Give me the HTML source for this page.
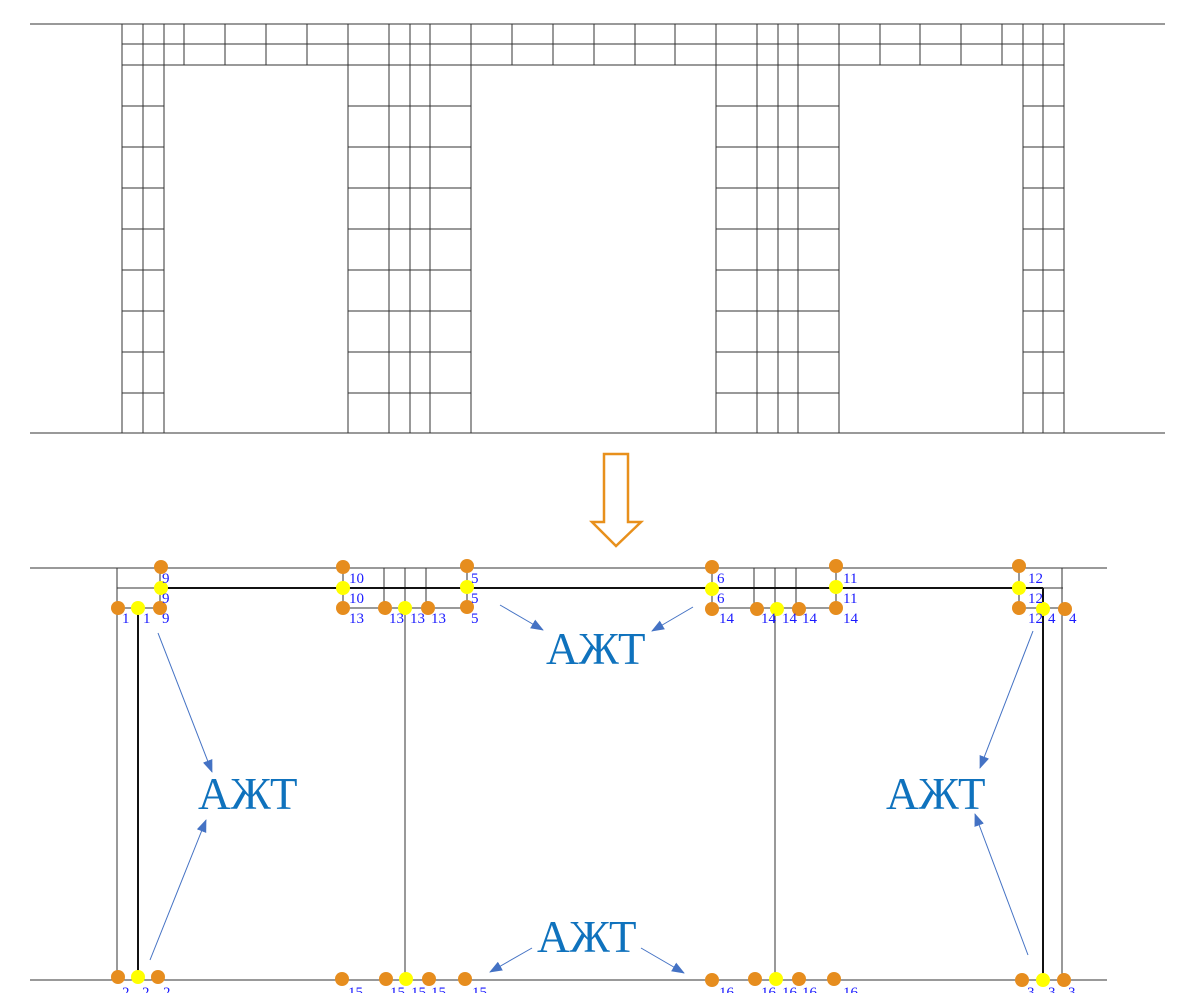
<!DOCTYPE html>
<html><head><meta charset="utf-8"><style>
html,body{margin:0;padding:0;background:#fff;}
svg{display:block}
.l{font-family:"Liberation Serif",serif;font-size:15px;fill:#1a1aff}
.a{font-family:"Liberation Serif",serif;font-size:45px;fill:#0f72bd}
</style></head><body>
<svg width="1178" height="993" viewBox="0 0 1178 993" xmlns="http://www.w3.org/2000/svg">
<defs><marker id="ah" markerWidth="13" markerHeight="10" refX="12" refY="5" orient="auto" markerUnits="userSpaceOnUse"><path d="M0,0 L13,5 L0,10 z" fill="#4472c4"/></marker></defs>
<g stroke="#333" stroke-width="1" fill="none" shape-rendering="crispEdges">
<path d="M30 24H1165M122 44H1064M122 65H1064M30 433H1165"/>
<path d="M122 106H164M348 106H471M716 106H839M1023 106H1064
M122 147H164M348 147H471M716 147H839M1023 147H1064
M122 188H164M348 188H471M716 188H839M1023 188H1064
M122 229H164M348 229H471M716 229H839M1023 229H1064
M122 270H164M348 270H471M716 270H839M1023 270H1064
M122 311H164M348 311H471M716 311H839M1023 311H1064
M122 352H164M348 352H471M716 352H839M1023 352H1064
M122 393H164M348 393H471M716 393H839M1023 393H1064"/>
<path d="M122 24V433M143 24V433M164 24V433M348 24V433M389 24V433M410 24V433M430 24V433M471 24V433M716 24V433M757 24V433M778 24V433M798 24V433M839 24V433M1023 24V433M1043 24V433M1064 24V433"/>
<path d="M184 24V65M225 24V65M266 24V65M307 24V65M512 24V65M553 24V65M594 24V65M635 24V65M675 24V65M880 24V65M920 24V65M961 24V65M1002 24V65"/>
</g>
<path d="M604 454H628V522H641L616 546L592 522H604Z" fill="none" stroke="#e8901c" stroke-width="2.5"/>
<g stroke="#333" stroke-width="1" fill="none" shape-rendering="crispEdges">
<path d="M30 568H1107M30 980H1107M117 588H160M117 608H160M343 608H467M712 608H836M1019 608H1063M1043 588H1063"/>
<path d="M117 568V980M1062 568V980M160 568V608M343 568V608M384 568V608M405 568V980M426 568V608M467 568V608M712 568V608M754 568V608M775 568V980M796 568V608M836 568V608M1019 568V608"/>
</g>
<g stroke="#111" stroke-width="2" fill="none"><path d="M160 588H1043M138 608V980M1043 588V980"/></g>
<g stroke="#4472c4" stroke-width="1" marker-end="url(#ah)">
<line x1="500" y1="605" x2="543" y2="630"/>
<line x1="693" y1="607" x2="652" y2="631"/>
<line x1="158" y1="633" x2="212" y2="772"/>
<line x1="150" y1="960" x2="206" y2="820"/>
<line x1="1033" y1="631" x2="980" y2="768"/>
<line x1="1028" y1="955" x2="975" y2="814"/>
<line x1="532" y1="948" x2="490" y2="972"/>
<line x1="641" y1="948" x2="684" y2="973"/>
</g>
<g fill="#e68d1e">
<circle cx="161" cy="567" r="7"/><circle cx="160" cy="608" r="7"/><circle cx="118" cy="608" r="7"/>
<circle cx="343" cy="567" r="7"/><circle cx="343" cy="608" r="7"/><circle cx="385" cy="608" r="7"/><circle cx="428" cy="608" r="7"/>
<circle cx="467" cy="566" r="7"/><circle cx="467" cy="607" r="7"/>
<circle cx="712" cy="567" r="7"/><circle cx="712" cy="609" r="7"/><circle cx="757" cy="609" r="7"/><circle cx="799" cy="609" r="7"/>
<circle cx="836" cy="566" r="7"/><circle cx="836" cy="608" r="7"/>
<circle cx="1019" cy="566" r="7"/><circle cx="1019" cy="608" r="7"/><circle cx="1065" cy="609" r="7"/>
<circle cx="118" cy="977" r="7"/><circle cx="158" cy="977" r="7"/>
<circle cx="342" cy="979" r="7"/><circle cx="386" cy="979" r="7"/><circle cx="429" cy="979" r="7"/><circle cx="465" cy="979" r="7"/>
<circle cx="712" cy="980" r="7"/><circle cx="755" cy="979" r="7"/><circle cx="799" cy="979" r="7"/><circle cx="834" cy="979" r="7"/>
<circle cx="1022" cy="980" r="7"/><circle cx="1064" cy="980" r="7"/>
</g>
<g fill="#ffff00">
<circle cx="161" cy="588" r="7"/><circle cx="138" cy="608" r="7"/><circle cx="343" cy="588" r="7"/><circle cx="405" cy="608" r="7"/>
<circle cx="467" cy="587" r="7"/><circle cx="712" cy="589" r="7"/><circle cx="777" cy="609" r="7"/><circle cx="836" cy="587" r="7"/>
<circle cx="1019" cy="588" r="7"/><circle cx="1043" cy="609" r="7"/>
<circle cx="138" cy="977" r="7"/><circle cx="406" cy="979" r="7"/><circle cx="776" cy="979" r="7"/><circle cx="1043" cy="980" r="7"/>
</g>
<g class="l">
<text x="162" y="583">9</text><text x="162" y="603">9</text><text x="162" y="623">9</text>
<text x="122" y="623">1</text><text x="143" y="623">1</text>
<text x="349" y="583">10</text><text x="349" y="603">10</text><text x="349" y="623">13</text>
<text x="389" y="623">13</text><text x="410" y="623">13</text><text x="431" y="623">13</text>
<text x="471" y="583">5</text><text x="471" y="603">5</text><text x="471" y="623">5</text>
<text x="717" y="583">6</text><text x="717" y="603">6</text><text x="719" y="623">14</text>
<text x="761" y="623">14</text><text x="782" y="623">14</text><text x="802" y="623">14</text>
<text x="843" y="583">11</text><text x="843" y="603">11</text><text x="843" y="623">14</text>
<text x="1028" y="583">12</text><text x="1028" y="603">12</text><text x="1028" y="623">12</text>
<text x="1048" y="623">4</text><text x="1069" y="623">4</text>
<text x="122" y="997">2</text><text x="142" y="997">2</text><text x="163" y="997">2</text>
<text x="348" y="997">15</text><text x="390" y="997">15</text><text x="411" y="997">15</text><text x="431" y="997">15</text><text x="472" y="997">15</text>
<text x="719" y="997">16</text><text x="761" y="997">16</text><text x="782" y="997">16</text><text x="802" y="997">16</text><text x="843" y="997">16</text>
<text x="1027" y="997">3</text><text x="1048" y="997">3</text><text x="1068" y="997">3</text>
</g>
<g class="a">
<text x="546" y="664">АЖТ</text>
<text x="198" y="809">АЖТ</text>
<text x="886" y="809">АЖТ</text>
<text x="537" y="952">АЖТ</text>
</g>
</svg>
</body></html>
